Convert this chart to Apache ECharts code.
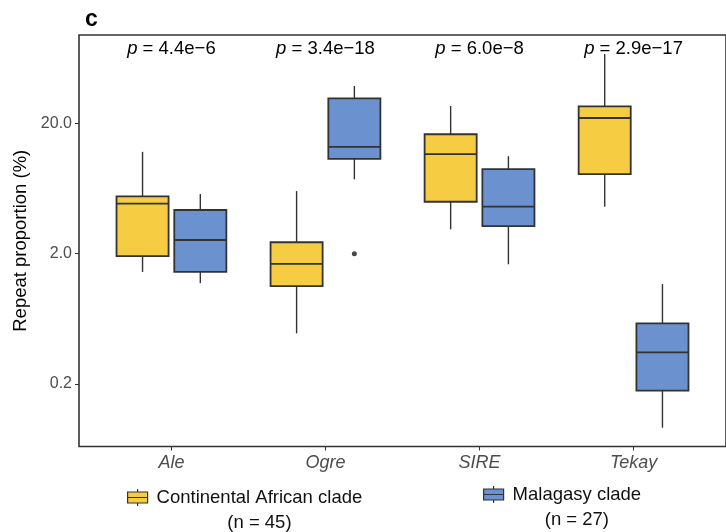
<!DOCTYPE html>
<html><head><meta charset="utf-8">
<script src="https://cdn.jsdelivr.net/npm/echarts@6/dist/echarts.min.js"></script>
<style>html,body{margin:0;padding:0;background:#fff}#c{width:726px;height:532px}</style>
</head><body><div id="c"></div>
<script>
// ---- data ----
const categories = ['Ale', 'Ogre', 'SIRE', 'Tekay'];
// [lower whisker, Q1, median, Q3, upper whisker] (%)
const africanStats = [
  [1.45, 1.92, 4.84, 5.51, 12.1],
  [0.49, 1.13, 1.67, 2.45, 6.05],
  [3.08, 5.01, 11.6, 16.5, 27.2],
  [4.59, 8.17, 22.0, 27.0, 68.1]
];
const malagasyStats = [
  [1.19, 1.45, 2.55, 4.33, 5.74],
  [7.44, 10.7, 13.2, 31.1, 38.7],
  [1.66, 3.26, 4.59, 8.93, 11.2],
  [0.0925, 0.178, 0.350, 0.585, 1.17]
];
// [category index, value]
const africanOutliers = [];
const malagasyOutliers = [[1, 2.0]];
const pValues = ['4.4e\u22126', '3.4e\u221218', '6.0e\u22128', '2.9e\u221217'];
const yTicks = [0.2, 2, 20];
const groupNames = ['Continental African clade', 'Malagasy clade'];
const groupCounts = [45, 27];

// ---- styling ----
const FONT = 'Liberation Sans, Arial, sans-serif';
const COLORS = ['#F5CC42', '#6B92CE'];
const DODGE = 0.1875;
const HALF_W = 0.169;
const Y_MIN = 0.0664, Y_MAX = 95.3;
const KEY_PATH = 'path://M10,0V3M10,14V17M0,3H20V14H0ZM0,8.5H20';
const FS = 18.5;

const chart = echarts.init(document.getElementById('c'), null, {renderer: 'canvas'});

function boxRender(offset, color) {
  return function (params, api) {
    const x = api.value(0) + offset;
    const lo = api.coord([x, api.value(1)]);
    const q1 = api.coord([x, api.value(2)]);
    const md = api.coord([x, api.value(3)]);
    const q3 = api.coord([x, api.value(4)]);
    const hi = api.coord([x, api.value(5)]);
    const left = api.coord([x - HALF_W, api.value(2)])[0];
    const right = api.coord([x + HALF_W, api.value(2)])[0];
    const ls = {stroke: '#333', lineWidth: 1.4};
    return {
      type: 'group',
      children: [
        {type: 'line', shape: {x1: hi[0], y1: hi[1], x2: q3[0], y2: q3[1]}, style: ls},
        {type: 'line', shape: {x1: lo[0], y1: lo[1], x2: q1[0], y2: q1[1]}, style: ls},
        {type: 'rect', shape: {x: left, y: q3[1], width: right - left, height: q1[1] - q3[1]},
          style: {fill: color, stroke: '#333', lineWidth: 1.8}},
        {type: 'line', shape: {x1: left, y1: md[1], x2: right, y2: md[1]}, style: {stroke: '#333', lineWidth: 1.8}}
      ]
    };
  };
}

function toData(stats) {
  return stats.map((s, i) => [i + 1].concat(s.map(v => Math.log10(v))));
}

const option = {
  animation: false,
  textStyle: {fontFamily: FONT},
  title: {text: 'c', left: 85, top: 8, padding: 0,
    textStyle: {fontSize: 23, fontWeight: 'bold', color: '#000', fontFamily: FONT}},
  grid: {left: 79, top: 35, width: 650, height: 411.5, show: true,
    borderColor: '#333', borderWidth: 1.6, containLabel: false},
  legend: groupNames.map((name, gi) => ({
    data: [{name: name, icon: KEY_PATH,
      itemStyle: {color: COLORS[gi], borderColor: '#333', borderWidth: 1.2}}],
    left: [127, 483][gi], top: [488, 485][gi], padding: 0,
    itemWidth: 20, itemHeight: 17, selectedMode: false,
    formatter: n => '{a|' + n + '}\n{b|(n = ' + groupCounts[gi] + ')}',
    textStyle: {fontSize: FS, color: '#111', fontFamily: FONT, padding: [25, 0, 0, 4],
      rich: {a: {fontSize: FS, lineHeight: 25, fontFamily: FONT},
             b: {fontSize: FS, lineHeight: 25, align: 'center', fontFamily: FONT}}}
  })),
  xAxis: {
    type: 'value', min: 0.4, max: 4.6,
    axisLine: {show: false, onZero: false}, splitLine: {show: false},
    axisTick: {show: true, customValues: [1, 2, 3, 4], length: 4, lineStyle: {color: '#333', width: 1}},
    axisLabel: {customValues: [1, 2, 3, 4], formatter: v => categories[Math.round(v) - 1],
      fontStyle: 'italic', fontSize: 18, color: '#4d4d4d', margin: 7, fontFamily: FONT}
  },
  yAxis: {
    type: 'value', min: Math.log10(Y_MIN), max: Math.log10(Y_MAX),
    name: 'Repeat proportion (%)', nameLocation: 'middle', nameGap: 46,
    nameTextStyle: {fontSize: FS, color: '#000', fontFamily: FONT},
    axisLine: {show: false, onZero: false}, splitLine: {show: false},
    axisTick: {show: true, customValues: yTicks.map(v => Math.log10(v)), length: 4, lineStyle: {color: '#333', width: 1}},
    axisLabel: {customValues: yTicks.map(v => Math.log10(v)),
      formatter: v => Math.pow(10, v).toFixed(1),
      fontSize: 16, color: '#4d4d4d', margin: 7, fontFamily: FONT}
  },
  series: [
    {type: 'custom', name: groupNames[0], itemStyle: {color: COLORS[0]},
      renderItem: boxRender(-DODGE, COLORS[0]), encode: {x: 0, y: [1, 2, 3, 4, 5]},
      data: toData(africanStats), silent: true},
    {type: 'custom', name: groupNames[1], itemStyle: {color: COLORS[1]},
      renderItem: boxRender(DODGE, COLORS[1]), encode: {x: 0, y: [1, 2, 3, 4, 5]},
      data: toData(malagasyStats), silent: true},
    {type: 'scatter', name: 'outA', symbolSize: 5, itemStyle: {color: '#1a1a1a'}, silent: true,
      data: africanOutliers.map(o => [o[0] + 1 - DODGE, Math.log10(o[1])])},
    {type: 'scatter', name: 'outM', symbolSize: 5, itemStyle: {color: '#1a1a1a'}, silent: true,
      data: malagasyOutliers.map(o => [o[0] + 1 + DODGE, Math.log10(o[1])])},
    {type: 'custom', name: 'pvals', silent: true,
      data: pValues.map((p, i) => [i + 1, Math.log10(Y_MAX)]),
      encode: {x: 0, y: 1},
      renderItem: function (params, api) {
        const pt = api.coord([api.value(0), api.value(1)]);
        return {type: 'text', x: pt[0], y: pt[1] + 14,
          style: {text: '{i|p} = ' + pValues[params.dataIndex],
            rich: {i: {fontStyle: 'italic', fontSize: FS, fontFamily: FONT, fill: '#000'}},
            fontSize: FS, fontFamily: FONT, fill: '#000', align: 'center', verticalAlign: 'middle'}};
      }}
  ]
};
chart.setOption(option);
</script></body></html>
